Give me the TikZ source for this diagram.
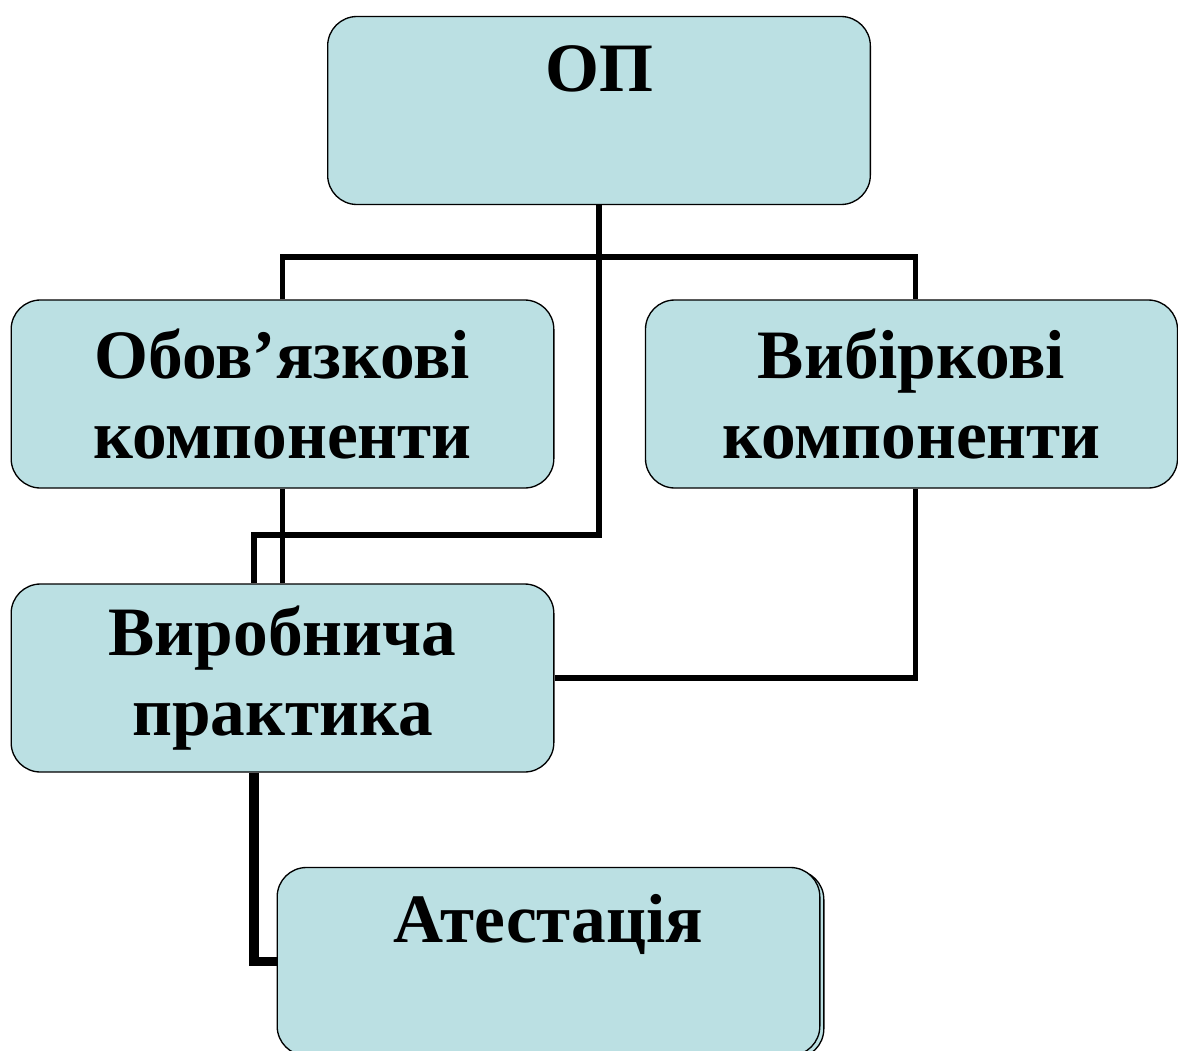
\documentclass[tikz,border=0pt]{standalone}
\usepackage{fontspec}
\setmainfont{Liberation Serif}
\usetikzlibrary{shadows}
\definecolor{boxfill}{RGB}{187,224,227}
\tikzset{
  box/.style={draw, line width=1pt, fill=boxfill, rounded corners=22pt,
    minimum width=407pt, minimum height=141pt, inner sep=0pt,
    align=center, font=\fontsize{52}{60}\selectfont\bfseries},
  boxtext/.style={anchor=base, inner sep=0pt,
    font=\fontsize{52}{60}\selectfont\bfseries},
  conn/.style={line width=4pt}
}
\begin{document}
\begin{tikzpicture}[x=0.75pt,y=-0.75pt]
  \useasboundingbox (0,0) rectangle (1178,1050);
  % boxes
  \node[box] (op) at (599,110.5) {};
  \node[boxtext] (opt) at ([yshift=-57pt]op.north) {ОП};
  \node[box] (obov) at (282.5,394) {Обов’язкові\\компоненти};
  \node[box, minimum width=399pt] (vyb) at (911.5,394) {Вибіркові\\компоненти};
  \node[box] (prak) at (282.5,678) {Виробнича\\практика};
  \node[box, copy shadow={shadow xshift=3pt, shadow yshift=-2pt}] (atest) at (548.5,961.5) {};
  \node[boxtext] (atestt) at ([yshift=-57pt]atest.north) {Атестація};
  % connectors
  \coordinate (bus) at (0,257);
  \coordinate (kink) at (254,535);
  \draw[conn] (obov.north) -- (obov.north |- bus) -- ([xshift=3pt]vyb.north |- bus) -- ([xshift=3pt]vyb.north);
  \draw[conn] (op.south) |- (kink) -- (kink |- prak.north);
  \draw[conn] (obov.south) -- (prak.north);
  \draw[conn] ([xshift=3pt]vyb.south) |- (prak.east);
  \draw[line width=7pt] (prak.south -| kink) |- (atest.west);
\end{tikzpicture}
\end{document}
